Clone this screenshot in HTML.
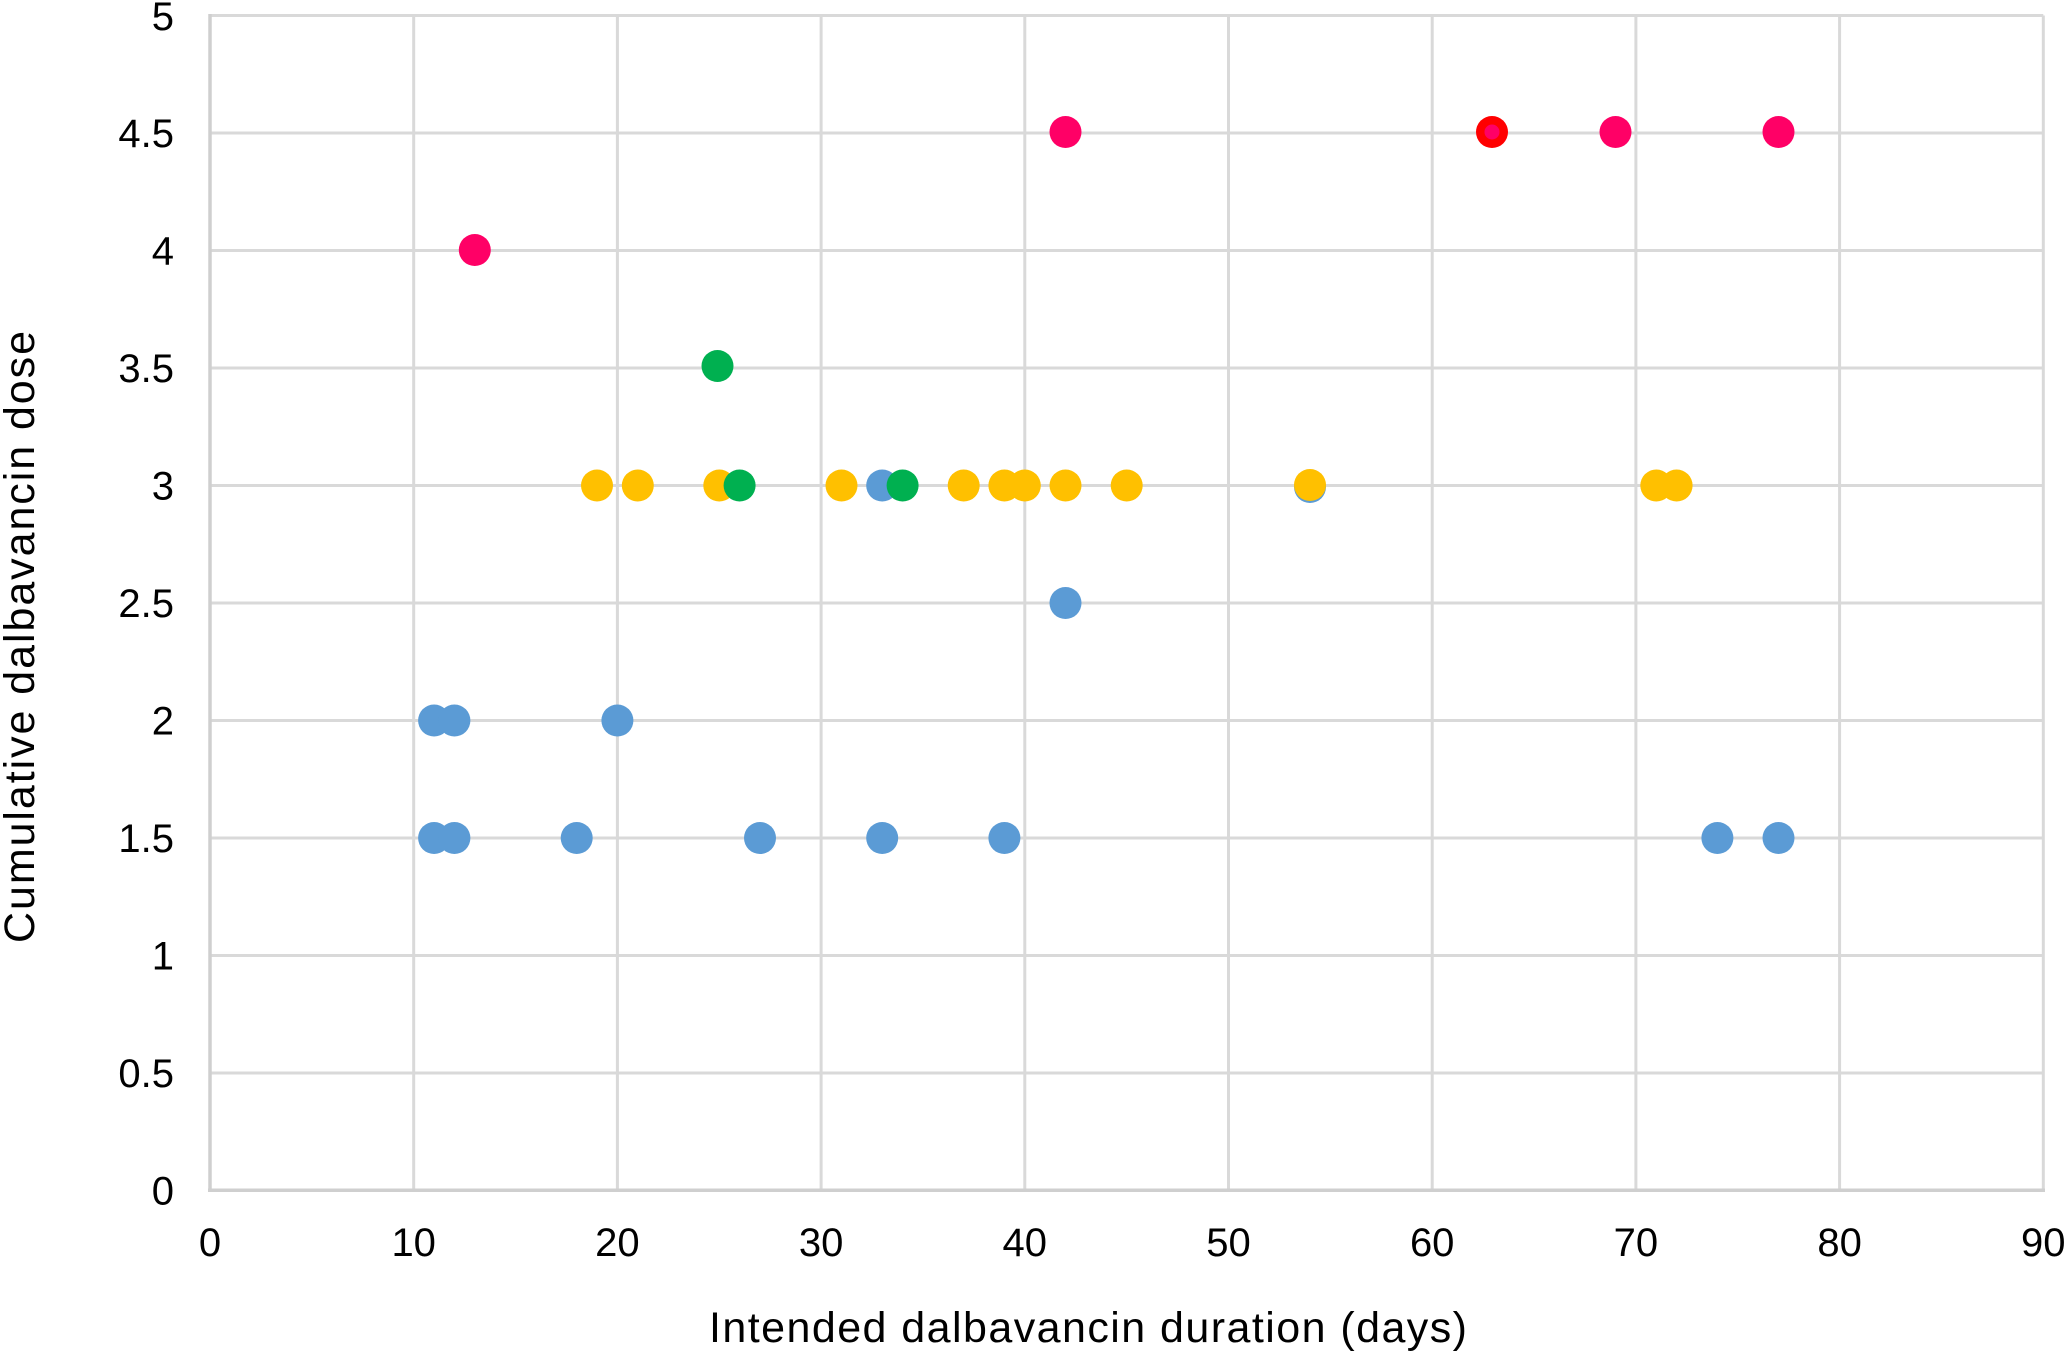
<!DOCTYPE html>
<html>
<head>
<meta charset="utf-8">
<style>
html,body{margin:0;padding:0;background:#fff;}
svg{display:block;}
text{font-family:"Liberation Sans",Arial,sans-serif;fill:#000;}
</style>
</head>
<body>
<svg width="2067" height="1354" viewBox="0 0 2067 1354" xmlns="http://www.w3.org/2000/svg">
<rect width="2067" height="1354" fill="#fff"/>
<g stroke="#d9d9d9" stroke-width="3">
<line x1="210" y1="15.5" x2="2043.3" y2="15.5"/>
<line x1="210" y1="133" x2="2043.3" y2="133"/>
<line x1="210" y1="250.5" x2="2043.3" y2="250.5"/>
<line x1="210" y1="368" x2="2043.3" y2="368"/>
<line x1="210" y1="485.5" x2="2043.3" y2="485.5"/>
<line x1="210" y1="603" x2="2043.3" y2="603"/>
<line x1="210" y1="720.5" x2="2043.3" y2="720.5"/>
<line x1="210" y1="838" x2="2043.3" y2="838"/>
<line x1="210" y1="955.5" x2="2043.3" y2="955.5"/>
<line x1="210" y1="1073" x2="2043.3" y2="1073"/>
<line x1="413.7" y1="15.5" x2="413.7" y2="1190.3"/>
<line x1="617.4" y1="15.5" x2="617.4" y2="1190.3"/>
<line x1="821.1" y1="15.5" x2="821.1" y2="1190.3"/>
<line x1="1024.8" y1="15.5" x2="1024.8" y2="1190.3"/>
<line x1="1228.5" y1="15.5" x2="1228.5" y2="1190.3"/>
<line x1="1432.2" y1="15.5" x2="1432.2" y2="1190.3"/>
<line x1="1635.9" y1="15.5" x2="1635.9" y2="1190.3"/>
<line x1="1839.6" y1="15.5" x2="1839.6" y2="1190.3"/>
<line x1="2043.3" y1="15.5" x2="2043.3" y2="1190.3"/>
</g>
<g stroke="#cfcfcf" stroke-width="3.5">
<line x1="210" y1="14" x2="210" y2="1190.3"/>
<line x1="208" y1="1190.3" x2="2045" y2="1190.3"/>
</g>
<g font-size="40" text-anchor="end">
<text x="174" y="30">5</text>
<text x="174" y="147">4.5</text>
<text x="174" y="264.5">4</text>
<text x="174" y="382">3.5</text>
<text x="174" y="499.5">3</text>
<text x="174" y="617">2.5</text>
<text x="174" y="734.5">2</text>
<text x="174" y="852">1.5</text>
<text x="174" y="969.5">1</text>
<text x="174" y="1087">0.5</text>
<text x="174" y="1204.5">0</text>
</g>
<g font-size="40" text-anchor="middle">
<text x="210" y="1256">0</text>
<text x="413.7" y="1256">10</text>
<text x="617.4" y="1256">20</text>
<text x="821.1" y="1256">30</text>
<text x="1024.8" y="1256">40</text>
<text x="1228.5" y="1256">50</text>
<text x="1432.2" y="1256">60</text>
<text x="1635.9" y="1256">70</text>
<text x="1839.6" y="1256">80</text>
<text x="2043.3" y="1256">90</text>
</g>
<text x="709" y="1342" font-size="43" textLength="758" lengthAdjust="spacing">Intended dalbavancin duration (days)</text>
<text transform="translate(34,943) rotate(-90)" x="0" y="0" font-size="43" textLength="612" lengthAdjust="spacing">Cumulative  dalbavancin dose</text>
<!-- blue -->
<g fill="#5b9bd5">
<circle cx="434.1" cy="720.5" r="16"/>
<circle cx="454.4" cy="720.5" r="16"/>
<circle cx="617.4" cy="720.5" r="16"/>
<circle cx="434.1" cy="838" r="16"/>
<circle cx="454.4" cy="838" r="16"/>
<circle cx="576.7" cy="838" r="16"/>
<circle cx="760.0" cy="838" r="16"/>
<circle cx="882.2" cy="838" r="16"/>
<circle cx="1004.4" cy="838" r="16"/>
<circle cx="1717.4" cy="838" r="16"/>
<circle cx="1778.5" cy="838" r="16"/>
<circle cx="1065.5" cy="603" r="16"/>
<circle cx="882.2" cy="485.5" r="16"/>
<circle cx="1310.0" cy="487" r="16"/>
</g>
<!-- yellow -->
<g fill="#ffc000">
<circle cx="597.0" cy="485.5" r="16"/>
<circle cx="637.8" cy="485.5" r="16"/>
<circle cx="719.3" cy="485.5" r="16"/>
<circle cx="841.5" cy="485.5" r="16"/>
<circle cx="963.7" cy="485.5" r="16"/>
<circle cx="1004.4" cy="485.5" r="16"/>
<circle cx="1024.8" cy="485.5" r="16"/>
<circle cx="1065.5" cy="485.5" r="16"/>
<circle cx="1126.7" cy="485.5" r="16"/>
<circle cx="1310.0" cy="485" r="16"/>
<circle cx="1656.3" cy="485.5" r="16"/>
<circle cx="1676.6" cy="485.5" r="16"/>
</g>
<!-- green -->
<g fill="#00b050">
<circle cx="717.5" cy="366" r="16"/>
<circle cx="739.6" cy="485.5" r="16"/>
<circle cx="902.6" cy="485.5" r="16"/>
</g>
<!-- pink -->
<g fill="#ff0066">
<circle cx="474.8" cy="250" r="16"/>
<circle cx="1065.5" cy="132" r="16"/>
<circle cx="1615.5" cy="132" r="16"/>
<circle cx="1778.5" cy="132" r="16"/>
</g>
<circle cx="1492" cy="132" r="16" fill="#ff0000"/>
<circle cx="1492" cy="132" r="7.5" fill="#ff0066"/>
</svg>
</body>
</html>
